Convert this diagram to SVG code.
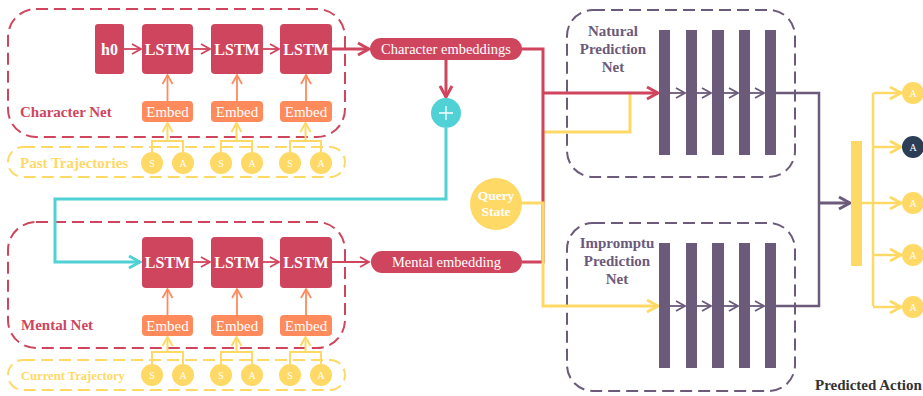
<svg xmlns="http://www.w3.org/2000/svg" width="923" height="396" viewBox="0 0 923 396">
<style>
.sr{font-family:"Liberation Serif","Times New Roman",serif}
.lstm{fill:#d0455e}
.emb{fill:#ff8a5b}
.lt{fill:#fff;font-size:16px;font-weight:bold;text-anchor:middle}
.et{fill:#fff;font-size:15px;text-anchor:middle}
.sa{fill:#ffd966}
.sat{fill:#fff;font-size:10px;text-anchor:middle}
.bar{fill:#6b5a7a}
.dR{fill:none;stroke:#d0455e;stroke-width:2;stroke-dasharray:12 6}
.dY{fill:none;stroke:#ffd966;stroke-width:2;stroke-dasharray:12 6}
.dP{fill:none;stroke:#6b5a7a;stroke-width:2;stroke-dasharray:12 6}
.ln{fill:none;stroke-linejoin:miter}
</style>
<defs>
<marker id="aR" markerUnits="userSpaceOnUse" markerWidth="16" markerHeight="16" refX="13" refY="8" orient="auto"><path d="M2,2 L13,8 L2,14" fill="none" stroke="#d0455e" stroke-width="3"/></marker>
<marker id="aRs" markerUnits="userSpaceOnUse" markerWidth="12" markerHeight="12" refX="10" refY="6" orient="auto"><path d="M1,1 L10,6 L1,11" fill="none" stroke="#d0455e" stroke-width="1.8"/></marker>
<marker id="aO" markerUnits="userSpaceOnUse" markerWidth="12" markerHeight="12" refX="10" refY="6" orient="auto"><path d="M1,1 L10,6 L1,11" fill="none" stroke="#ff8a5b" stroke-width="1.8"/></marker>
<marker id="aYs" markerUnits="userSpaceOnUse" markerWidth="12" markerHeight="12" refX="10" refY="6" orient="auto"><path d="M1,1 L10,6 L1,11" fill="none" stroke="#ffd966" stroke-width="2"/></marker>
<marker id="aY" markerUnits="userSpaceOnUse" markerWidth="16" markerHeight="16" refX="13" refY="8" orient="auto"><path d="M2,2 L13,8 L2,14" fill="none" stroke="#ffd966" stroke-width="2.8"/></marker>
<marker id="aP" markerUnits="userSpaceOnUse" markerWidth="12" markerHeight="12" refX="10" refY="6" orient="auto"><path d="M1,1 L10,6 L1,11" fill="none" stroke="#6b5a7a" stroke-width="1.8"/></marker>
<marker id="aPb" markerUnits="userSpaceOnUse" markerWidth="16" markerHeight="16" refX="13" refY="8" orient="auto"><path d="M2,2 L13,8 L2,14" fill="none" stroke="#6b5a7a" stroke-width="3"/></marker>
<marker id="aT" markerUnits="userSpaceOnUse" markerWidth="16" markerHeight="16" refX="13" refY="8" orient="auto"><path d="M2,2 L13,8 L2,14" fill="none" stroke="#4fd1d5" stroke-width="3"/></marker>
</defs>
<rect width="923" height="396" fill="#fff"/>

<!-- group boxes -->
<g id="character-net">
<rect class="dR" x="8" y="9" width="337" height="128" rx="28"/>
<text class="sr" x="20" y="117" font-size="15" font-weight="bold" fill="#d0455e">Character Net</text>
</g>
<g id="past-trajectories">
<rect class="dY" x="8" y="147" width="337" height="30" rx="15"/>
<text class="sr" x="20" y="168" font-size="15" font-weight="bold" fill="#ffd966">Past Trajectories</text>
</g>
<g id="mental-net">
<rect class="dR" x="8" y="222" width="337" height="126" rx="28"/>
<text class="sr" x="21" y="330" font-size="15" font-weight="bold" fill="#d0455e">Mental Net</text>
</g>
<g id="current-trajectory">
<rect class="dY" x="8" y="360" width="337" height="30" rx="15"/>
<text class="sr" x="21" y="380" font-size="12.6" font-weight="bold" fill="#ffd966">Current Trajectory</text>
</g>
<g id="natural-net">
<rect class="dP" x="567" y="10" width="228" height="167" rx="26"/>
<text class="sr" x="613" y="36" font-size="15" font-weight="bold" fill="#6b5a7a" text-anchor="middle">Natural</text>
<text class="sr" x="613" y="54" font-size="15" font-weight="bold" fill="#6b5a7a" text-anchor="middle">Prediction</text>
<text class="sr" x="613" y="72" font-size="15" font-weight="bold" fill="#6b5a7a" text-anchor="middle">Net</text>
</g>
<g id="impromptu-net">
<rect class="dP" x="567" y="223" width="228" height="168" rx="26"/>
<text class="sr" x="617" y="248" font-size="15" font-weight="bold" fill="#6b5a7a" text-anchor="middle">Impromptu</text>
<text class="sr" x="617" y="266" font-size="15" font-weight="bold" fill="#6b5a7a" text-anchor="middle">Prediction</text>
<text class="sr" x="617" y="284" font-size="15" font-weight="bold" fill="#6b5a7a" text-anchor="middle">Net</text>
</g>

<!-- connectors -->
<g id="connectors" class="ln">
<path d="M124,49 H141" stroke="#d0455e" stroke-width="1.8" marker-end="url(#aRs)"/>
<path d="M193,49 H210" stroke="#d0455e" stroke-width="1.8" marker-end="url(#aRs)"/>
<path d="M263,49 H279" stroke="#d0455e" stroke-width="1.8" marker-end="url(#aRs)"/>
<path d="M167.5,101 V75" stroke="#ff8a5b" stroke-width="1.8" marker-end="url(#aO)"/>
<path d="M237,101 V75" stroke="#ff8a5b" stroke-width="1.8" marker-end="url(#aO)"/>
<path d="M306,101 V75" stroke="#ff8a5b" stroke-width="1.8" marker-end="url(#aO)"/>
<path d="M152,152 V141 H183 V152 M221,152 V141 H252 V152 M290,152 V141 H321 V152" stroke="#ffd966" stroke-width="2"/>
<path d="M167.5,141 V123" stroke="#ffd966" stroke-width="2" marker-end="url(#aYs)"/>
<path d="M236.5,141 V123" stroke="#ffd966" stroke-width="2" marker-end="url(#aYs)"/>
<path d="M305.5,141 V123" stroke="#ffd966" stroke-width="2" marker-end="url(#aYs)"/>
<path d="M193,262 H210" stroke="#d0455e" stroke-width="1.8" marker-end="url(#aRs)"/>
<path d="M263,262 H279" stroke="#d0455e" stroke-width="1.8" marker-end="url(#aRs)"/>
<path d="M167.5,315 V289" stroke="#ff8a5b" stroke-width="1.8" marker-end="url(#aO)"/>
<path d="M237,315 V289" stroke="#ff8a5b" stroke-width="1.8" marker-end="url(#aO)"/>
<path d="M306,315 V289" stroke="#ff8a5b" stroke-width="1.8" marker-end="url(#aO)"/>
<path d="M152,364 V352 H183 V364 M221,364 V352 H252 V364 M290,364 V352 H321 V364" stroke="#ffd966" stroke-width="2"/>
<path d="M167.5,352 V337" stroke="#ffd966" stroke-width="2" marker-end="url(#aYs)"/>
<path d="M236.5,352 V337" stroke="#ffd966" stroke-width="2" marker-end="url(#aYs)"/>
<path d="M305.5,352 V337" stroke="#ffd966" stroke-width="2" marker-end="url(#aYs)"/>
<path d="M332,49 H369" stroke="#d0455e" stroke-width="3" marker-end="url(#aR)"/>
<path d="M332,262 H369" stroke="#d0455e" stroke-width="1.8" marker-end="url(#aRs)"/>
<path d="M446,60 V97" stroke="#d0455e" stroke-width="3" marker-end="url(#aR)"/>
<path d="M446,128 V199 H55 V262 H140" stroke="#4fd1d5" stroke-width="3" marker-end="url(#aT)"/>
<path d="M543,203 V132 H630 V93" stroke="#ffd966" stroke-width="3"/>
<path d="M522,49 H543 V262 H522" stroke="#d0455e" stroke-width="3"/>
<path d="M543,93 H658" stroke="#d0455e" stroke-width="3" marker-end="url(#aR)"/>
<path d="M521,203 H543 V306 H658" stroke="#ffd966" stroke-width="3" marker-end="url(#aY)"/>
<path d="M670,93 H685" stroke="#6b5a7a" stroke-width="1.8" marker-end="url(#aP)"/>
<path d="M697,93 H711" stroke="#6b5a7a" stroke-width="1.8" marker-end="url(#aP)"/>
<path d="M724,93 H738" stroke="#6b5a7a" stroke-width="1.8" marker-end="url(#aP)"/>
<path d="M750,93 H764" stroke="#6b5a7a" stroke-width="1.8" marker-end="url(#aP)"/>
<path d="M670,306 H685" stroke="#6b5a7a" stroke-width="1.8" marker-end="url(#aP)"/>
<path d="M697,306 H711" stroke="#6b5a7a" stroke-width="1.8" marker-end="url(#aP)"/>
<path d="M724,306 H738" stroke="#6b5a7a" stroke-width="1.8" marker-end="url(#aP)"/>
<path d="M750,306 H764" stroke="#6b5a7a" stroke-width="1.8" marker-end="url(#aP)"/>
<path d="M776,93 H819 V306 H776" stroke="#6b5a7a" stroke-width="2.5"/>
<path d="M819,203 H850" stroke="#6b5a7a" stroke-width="3" marker-end="url(#aPb)"/>
<path d="M862,203 H873 M873,93 V306" stroke="#ffd966" stroke-width="2.5"/>
<path d="M873,93 H901" stroke="#ffd966" stroke-width="2.5" marker-end="url(#aY)"/>
<path d="M873,147 H901" stroke="#ffd966" stroke-width="2.5" marker-end="url(#aY)"/>
<path d="M873,203 H901" stroke="#ffd966" stroke-width="2.5" marker-end="url(#aY)"/>
<path d="M873,255 H901" stroke="#ffd966" stroke-width="2.5" marker-end="url(#aY)"/>
<path d="M873,307 H901" stroke="#ffd966" stroke-width="2.5" marker-end="url(#aY)"/>
</g>

<g id="h0"><rect class="lstm" x="95" y="24" width="29" height="50" rx="3"/><text class="sr lt" x="109.5" y="55" font-size="15">h0</text></g>
<g id="c-lstm1"><rect class="lstm" x="142" y="24" width="51" height="50" rx="4"/><text class="sr lt" x="167.5" y="55">LSTM</text></g>
<g id="c-lstm2"><rect class="lstm" x="211" y="24" width="52" height="50" rx="4"/><text class="sr lt" x="237" y="55">LSTM</text></g>
<g id="c-lstm3"><rect class="lstm" x="280" y="24" width="52" height="50" rx="4"/><text class="sr lt" x="306" y="55">LSTM</text></g>
<g id="c-embed1"><rect class="emb" x="142" y="101" width="51" height="21" rx="4"/><text class="sr et" x="167.5" y="116.5">Embed</text></g>
<g id="c-embed2"><rect class="emb" x="211" y="101" width="52" height="21" rx="4"/><text class="sr et" x="237" y="116.5">Embed</text></g>
<g id="c-embed3"><rect class="emb" x="280" y="101" width="52" height="21" rx="4"/><text class="sr et" x="306" y="116.5">Embed</text></g>
<g id="past-sa">
<circle class="sa" cx="152" cy="163" r="11"/><text class="sr sat" x="152" y="166.5">S</text>
<circle class="sa" cx="183" cy="163" r="11"/><text class="sr sat" x="183" y="166.5">A</text>
<circle class="sa" cx="221" cy="163" r="11"/><text class="sr sat" x="221" y="166.5">S</text>
<circle class="sa" cx="252" cy="163" r="11"/><text class="sr sat" x="252" y="166.5">A</text>
<circle class="sa" cx="290" cy="163" r="11"/><text class="sr sat" x="290" y="166.5">S</text>
<circle class="sa" cx="321" cy="163" r="11"/><text class="sr sat" x="321" y="166.5">A</text>
</g>

<g id="m-lstm1"><rect class="lstm" x="142" y="237" width="51" height="51" rx="4"/><text class="sr lt" x="167.5" y="268">LSTM</text></g>
<g id="m-lstm2"><rect class="lstm" x="211" y="237" width="52" height="51" rx="4"/><text class="sr lt" x="237" y="268">LSTM</text></g>
<g id="m-lstm3"><rect class="lstm" x="280" y="237" width="52" height="51" rx="4"/><text class="sr lt" x="306" y="268">LSTM</text></g>
<g id="m-embed1"><rect class="emb" x="142" y="315" width="51" height="21" rx="4"/><text class="sr et" x="167.5" y="330.5">Embed</text></g>
<g id="m-embed2"><rect class="emb" x="211" y="315" width="52" height="21" rx="4"/><text class="sr et" x="237" y="330.5">Embed</text></g>
<g id="m-embed3"><rect class="emb" x="280" y="315" width="52" height="21" rx="4"/><text class="sr et" x="306" y="330.5">Embed</text></g>
<g id="current-sa">
<circle class="sa" cx="152" cy="375" r="11"/><text class="sr sat" x="152" y="378.5">S</text>
<circle class="sa" cx="183" cy="375" r="11"/><text class="sr sat" x="183" y="378.5">A</text>
<circle class="sa" cx="221" cy="375" r="11"/><text class="sr sat" x="221" y="378.5">S</text>
<circle class="sa" cx="252" cy="375" r="11"/><text class="sr sat" x="252" y="378.5">A</text>
<circle class="sa" cx="290" cy="375" r="11"/><text class="sr sat" x="290" y="378.5">S</text>
<circle class="sa" cx="321" cy="375" r="11"/><text class="sr sat" x="321" y="378.5">A</text>
</g>

<g id="character-embeddings"><rect x="370" y="38" width="152" height="22" rx="11" fill="#d0455e"/><text class="sr" x="446" y="54" font-size="14.5" fill="#fff" text-anchor="middle">Character embeddings</text></g>
<g id="mental-embedding"><rect x="371" y="251" width="151" height="22" rx="11" fill="#d0455e"/><text class="sr" x="446.5" y="267" font-size="14.5" fill="#fff" text-anchor="middle">Mental embedding</text></g>
<g id="plus"><circle cx="446" cy="113" r="15" fill="#4fd1d5"/><path d="M439,113 H453 M446,106 V120" stroke="#fff" stroke-width="1.3"/></g>
<g id="query-state"><circle cx="496" cy="204" r="26" fill="#ffd966"/>
<text class="sr" x="496" y="200" font-size="13.5" font-weight="bold" fill="#fff" text-anchor="middle">Query</text>
<text class="sr" x="496" y="216" font-size="13.5" font-weight="bold" fill="#fff" text-anchor="middle">State</text></g>

<g id="natural-bars">
<rect class="bar" x="659" y="30" width="11" height="125"/>
<rect class="bar" x="686" y="30" width="11" height="125"/>
<rect class="bar" x="712" y="30" width="12" height="125"/>
<rect class="bar" x="739" y="30" width="11" height="125"/>
<rect class="bar" x="765" y="30" width="11" height="125"/>
</g>
<g id="impromptu-bars">
<rect class="bar" x="659" y="243" width="11" height="125"/>
<rect class="bar" x="686" y="243" width="11" height="125"/>
<rect class="bar" x="712" y="243" width="12" height="125"/>
<rect class="bar" x="739" y="243" width="11" height="125"/>
<rect class="bar" x="765" y="243" width="11" height="125"/>
</g>
<g id="combine-bar"><rect x="851" y="141" width="11" height="125" fill="#ffd966"/></g>

<g id="actions">
<circle class="sa" cx="913" cy="93" r="11"/><text class="sr sat" x="913" y="96.5">A</text>
<circle cx="913" cy="147" r="11" fill="#2c3e55"/><text class="sr sat" x="913" y="150.5">A</text>
<circle class="sa" cx="913" cy="203" r="11"/><text class="sr sat" x="913" y="206.5">A</text>
<circle class="sa" cx="913" cy="255" r="11"/><text class="sr sat" x="913" y="258.5">A</text>
<circle class="sa" cx="913" cy="307" r="11"/><text class="sr sat" x="913" y="310.5">A</text>
<text class="sr" x="815" y="390" font-size="15" font-weight="bold" fill="#333">Predicted Action</text>
</g>
</svg>
